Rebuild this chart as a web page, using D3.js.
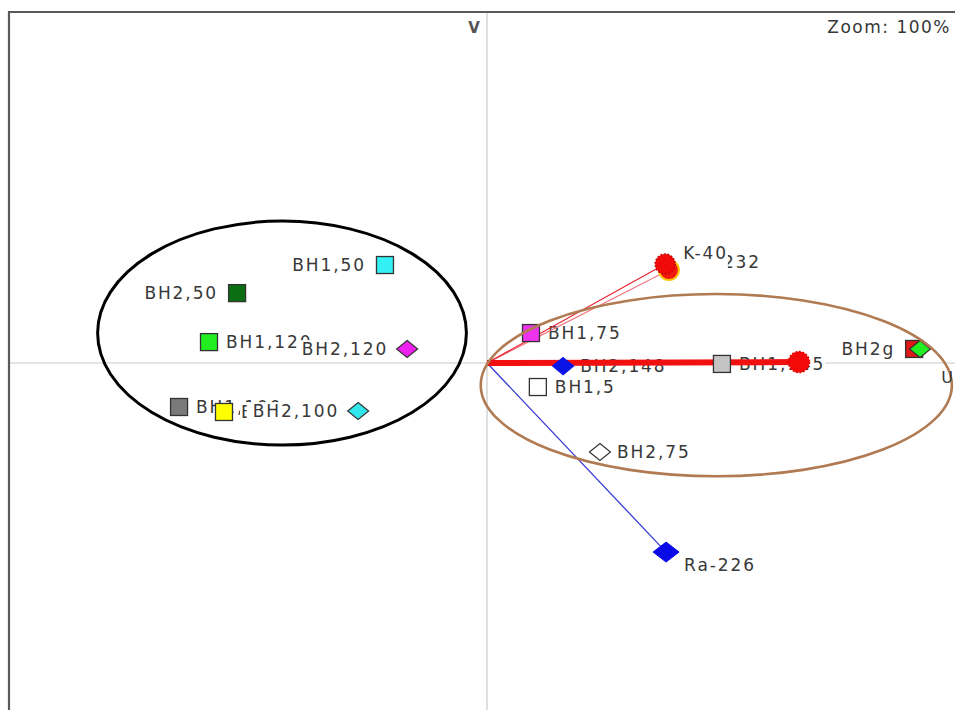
<!DOCTYPE html>
<html>
<head>
<meta charset="utf-8">
<script src="https://cdn.jsdelivr.net/npm/d3@7"></script>
<style>
  html, body { margin: 0; padding: 0; background: #fff; }
  svg { display: block; }
  text { font-family: "DejaVu Sans", Verdana, sans-serif; }
</style>
</head>
<body>
<script>
// Sample scores on the U / V plane
const sampleNames = ["BH1,100", "BH2,5", "BH2,100", "BH2,50", "BH1,50", "BH1,120", "BH2,120",
                     "BH1,75", "BH1,5", "BH2,75", "BH1,145", "BH2,148", "BH2g", "BH1g"];
const sampleU = [-0.987, -0.843, -0.413, -0.801, -0.327, -0.891, -0.256,
                 0.141, 0.163, 0.362, 0.753, 0.244, 1.369, 1.388];
const sampleV = [-0.141, -0.157, -0.154, 0.224, 0.314, 0.067, 0.045,
                 0.096, -0.077, -0.285, -0.003, -0.010, 0.045, 0.045];

// Radionuclide loadings
const varNames = ["Th-232", "K-40", "Ra-226", "U-238"];
const varU = [0.583, 0.571, 0.574, 1.000];
const varV = [0.298, 0.317, -0.606, 0.003];

// Group outlines (centre and radii in U / V units)
const groupCU = [-0.657, 0.735];
const groupCV = [0.096, -0.071];
const groupRU = [0.591, 0.755];
const groupRV = [0.359, 0.292];

const axisNames = ["U", "V"];
const zoomText = "Zoom: 100%";

// ---- presentation ----
const sampleStyle = {
  "BH1,100": { shape: "square", fill: "#7a7a7a", side: "right" },
  "BH2,5":   { shape: "square", fill: "#ffff00", side: "right" },
  "BH2,100": { shape: "diamond", fill: "#33e6ee", side: "left", pad: 6 },
  "BH2,50":  { shape: "square", fill: "#0a6e12", side: "left" },
  "BH1,50":  { shape: "square", fill: "#33f0f5", side: "left" },
  "BH1,120": { shape: "square", fill: "#22ee22", side: "right" },
  "BH2,120": { shape: "diamond", fill: "#ee22ee", side: "left", pad: 3 },
  "BH1,75":  { shape: "square", fill: "#ee33ee", side: "right" },
  "BH1,5":   { shape: "square", fill: "#ffffff", side: "right" },
  "BH2,75":  { shape: "diamond", fill: "#ffffff", side: "right" },
  "BH1,145": { shape: "square", fill: "#c4c4c4", side: "right" },
  "BH2,148": { shape: "diamond", fill: "#0a14e6", side: "right" },
  "BH2g":    { shape: "square", fill: "#e01818", side: "left" },
  "BH1g":    { shape: "diamond", fill: "#22ee22", side: "none" }
};

const W = 955, H = 710;
const svg = d3.select("body").append("svg").attr("width", W).attr("height", H);

const x = d3.scaleLinear().domain([-1.5, 1.5]).range([19, 955]);
const y = d3.scaleLinear().domain([-1.1, 1.1]).range([706.2, 19.8]);

const fontSize = 17, spacing = 1.9, textCol = "#383838";

// axes through the origin
svg.append("line").attr("x1", 9).attr("x2", W).attr("y1", y(0)).attr("y2", y(0))
  .attr("stroke", "#c9c9c9").attr("stroke-width", 1.2);
svg.append("line").attr("x1", x(0)).attr("x2", x(0)).attr("y1", 12).attr("y2", H)
  .attr("stroke", "#c9c9c9").attr("stroke-width", 1.2);

// frame (top and left edges)
svg.append("path").attr("d", `M9,${H} V12 H${W}`).attr("fill", "none")
  .attr("stroke", "#5a5a5a").attr("stroke-width", 2.2);

function diamondPath(w, h) {
  return `M0,${-h} L${w},0 L0,${h} L${-w},0 Z`;
}

// text label, optionally on a white box (padding: left, bottom)
function addLabel(g, text, tx, ty, anchor, bg, padL = 1, padB = 0) {
  const t = g.append("text").attr("x", tx).attr("y", ty)
    .attr("text-anchor", anchor).attr("dy", "0.36em")
    .attr("font-size", fontSize).attr("letter-spacing", spacing)
    .attr("fill", textCol).text(text);
  if (bg) {
    const b = t.node().getBBox();
    g.insert("rect", () => t.node())
      .attr("x", b.x - padL).attr("y", b.y + 1)
      .attr("width", b.width + padL).attr("height", b.height - 2 + padB)
      .attr("fill", "#fff");
  }
  return t;
}

const samples = sampleNames.map((n, i) => ({ name: n, u: sampleU[i], v: sampleV[i], ...sampleStyle[n] }));
const vars = varNames.map((n, i) => ({ name: n, u: varU[i], v: varV[i] }));

const labelLayer = svg.append("g");
const vecLayer = svg.append("g");
const markLayer = svg.append("g");

function drawSample(g, d) {
  const cx = x(d.u), cy = y(d.v);
  if (d.shape === "square") {
    g.append("rect").attr("x", cx - 8.5).attr("y", cy - 8.5).attr("width", 17).attr("height", 17)
      .attr("fill", d.fill).attr("stroke", "#333").attr("stroke-width", 1.3);
  } else {
    const solid = d.fill === "#0a14e6";
    g.append("path").attr("d", diamondPath(10.5, 8.5)).attr("transform", `translate(${cx},${cy})`)
      .attr("fill", d.fill).attr("stroke", solid ? d.fill : "#333").attr("stroke-width", 1.2);
  }
}

// sample labels and markers, in drawing order
samples.forEach(d => {
  const g = labelLayer.append("g");
  const cx = x(d.u), cy = y(d.v);
  if (d.side === "right") addLabel(g, d.name, cx + 17, cy, "start", true, d.pad || 1);
  else if (d.side === "left") addLabel(g, d.name, cx - 19, cy, "end", true, d.pad || 1);
  // left-hand markers sit among neighbouring labels, so they stay with their own label
  drawSample(d.u < 0 ? g : markLayer, d);
});

// loading vectors from the origin
const vecStyle = {
  "Th-232": { stroke: "#f07a86", width: 1.3 },
  "K-40":   { stroke: "#e8202c", width: 1.2 },
  "Ra-226": { stroke: "#3a3ad6", width: 1.3 },
  "U-238":  { stroke: "#f01010", width: 6 }
};
vars.forEach(d => {
  const s = vecStyle[d.name];
  vecLayer.append("line")
    .attr("x1", x(0)).attr("y1", y(0)).attr("x2", x(d.u)).attr("y2", y(d.v))
    .attr("stroke", s.stroke).attr("stroke-width", s.width);
});

// loading markers and labels
const varLayer = svg.append("g");
vars.forEach(d => {
  const cx = x(d.u), cy = y(d.v);
  if (d.name === "Ra-226") {
    varLayer.append("path").attr("d", diamondPath(13, 10)).attr("transform", `translate(${cx},${cy})`)
      .attr("fill", "#0a0ae6").attr("stroke", "#0a0ae6");
    addLabel(varLayer, d.name, cx + 18, cy + 13, "start", false);
  } else if (d.name === "Th-232") {
    varLayer.append("circle").attr("cx", cx).attr("cy", cy).attr("r", 10)
      .attr("fill", "#f21a10").attr("stroke", "#ffc400").attr("stroke-width", 2);
    addLabel(varLayer, d.name, cx + 21, cy - 8, "start", false);
  } else if (d.name === "K-40") {
    varLayer.append("circle").attr("cx", cx).attr("cy", cy).attr("r", 10)
      .attr("fill", "#f00a0a").attr("stroke", "#c80000").attr("stroke-width", 1.5)
      .attr("stroke-dasharray", "2,1.5");
    addLabel(varLayer, d.name, cx + 18, cy - 11, "start", true, 2, 6);
  } else {
    varLayer.append("circle").attr("cx", cx).attr("cy", cy).attr("r", 10.5)
      .attr("fill", "#f50a0a").attr("stroke", "#e00000").attr("stroke-width", 1.5)
      .attr("stroke-dasharray", "2,1.5");
  }
});

// group outlines
const groupStroke = ["#000000", "#b07a52"];
const groupWidth = [3, 2.6];
groupCU.forEach((u, i) => {
  svg.append("ellipse")
    .attr("cx", x(u)).attr("cy", y(groupCV[i]))
    .attr("rx", x(groupRU[i]) - x(0)).attr("ry", y(0) - y(groupRV[i]))
    .attr("fill", "none").attr("stroke", groupStroke[i]).attr("stroke-width", groupWidth[i]);
});

// axis names and zoom readout
svg.append("text").attr("x", 947).attr("y", y(0) + 20).attr("text-anchor", "middle")
  .attr("font-size", 16).attr("fill", textCol).text(axisNames[0]);
svg.append("text").attr("x", 474).attr("y", 33).attr("text-anchor", "middle")
  .attr("font-size", 15).attr("font-weight", "bold").attr("fill", "#555").text(axisNames[1]);
svg.append("text").attr("x", 951).attr("y", 33).attr("text-anchor", "end")
  .attr("font-size", 17).attr("letter-spacing", 1.5).attr("fill", textCol).text(zoomText);
</script>
</body>
</html>
